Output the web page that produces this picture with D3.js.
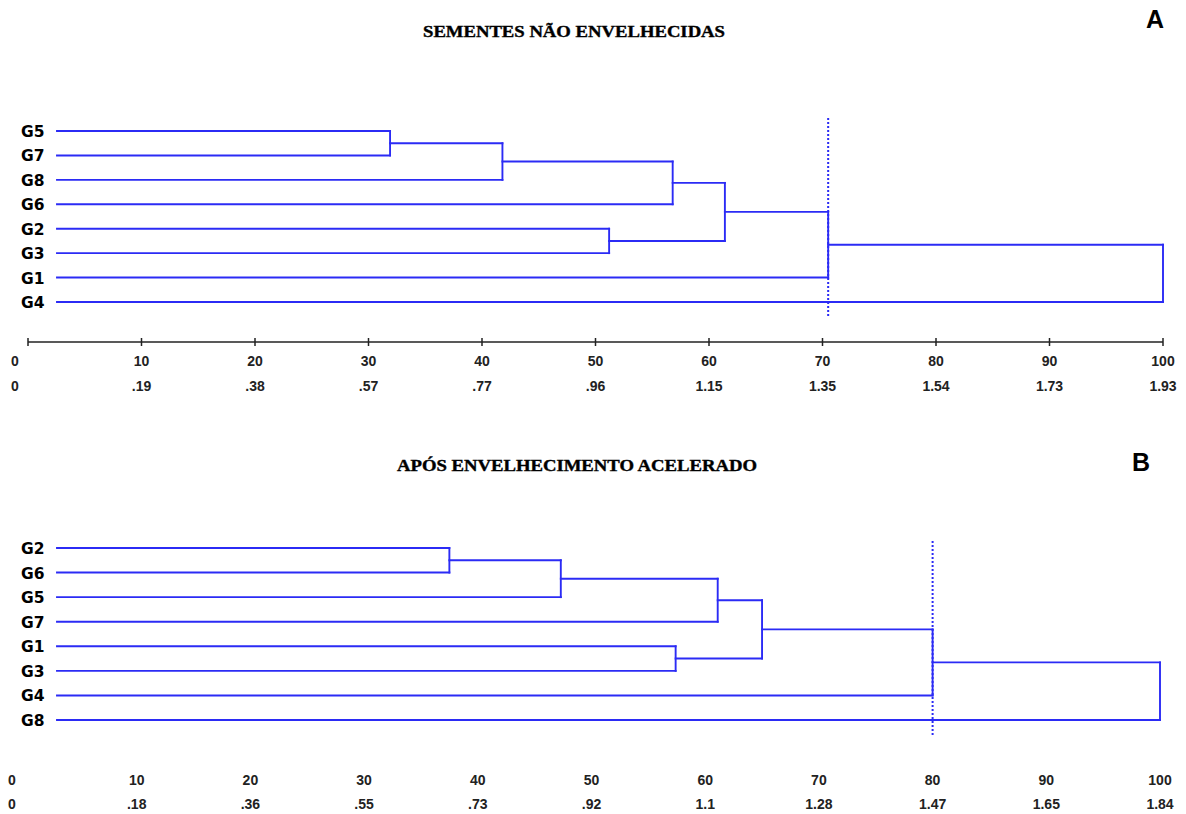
<!DOCTYPE html>
<html>
<head>
<meta charset="utf-8">
<script src="https://cdn.jsdelivr.net/npm/d3@7"></script>
<style>
  html, body { margin: 0; padding: 0; background: #fff; }
  svg { display: block; }
</style>
</head>
<body>
<svg id="chart"></svg>
<script>
// Two UPGMA-style dendrograms, same scale 0..100 with the raw distance underneath.

// --- panel A: seeds not aged
const leavesA = ["G5", "G7", "G8", "G6", "G2", "G3", "G1", "G4"];
// [left, right, height]; numbers refer to earlier merges
const mergesA = [
  ["G5", "G7", 31.9],
  [0, "G8", 41.8],
  ["G2", "G3", 51.2],
  [1, "G6", 56.8],
  [3, 2, 61.4],
  [4, "G1", 70.5],
  [5, "G4", 100],
];
const cutA = 70.5;
const distA = ["0", ".19", ".38", ".57", ".77", ".96", "1.15", "1.35", "1.54", "1.73", "1.93"];

// --- panel B: after accelerated ageing
const leavesB = ["G2", "G6", "G5", "G7", "G1", "G3", "G4", "G8"];
const mergesB = [
  ["G2", "G6", 37.5],
  [0, "G5", 47.3],
  ["G1", "G3", 57.4],
  [1, "G7", 61.1],
  [3, 2, 65.0],
  [4, "G4", 80.0],
  [5, "G8", 100],
];
const cutB = 80.0;
const distB = ["0", ".18", ".36", ".55", ".73", ".92", "1.1", "1.28", "1.47", "1.65", "1.84"];

const ticks = d3.range(0, 101, 10);

const W = 1186, H = 814;
const BLUE = "#2b2bf5";
const INK = "#222";

const svg = d3.select("#chart").attr("width", W).attr("height", H);

function drawPanel(cfg) {
  const g = svg.append("g");
  const x = d3.scaleLinear().domain([0, 100]).range(cfg.xRange);
  const y = d3.scalePoint().domain(cfg.leaves).range(cfg.yRange);

  // title + panel letter
  g.append("text")
    .attr("x", cfg.titleX).attr("y", cfg.titleY)
    .attr("text-anchor", "middle")
    .attr("font-family", "'Liberation Serif', 'Times New Roman', serif")
    .attr("font-weight", "bold").attr("font-size", 17)
    .attr("textLength", cfg.titleLen).attr("lengthAdjust", "spacingAndGlyphs")
    .attr("fill", "#000").attr("stroke", "#000").attr("stroke-width", 0.4)
    .text(cfg.title);
  g.append("text")
    .attr("x", cfg.letterX).attr("y", cfg.letterY)
    .attr("text-anchor", "middle")
    .attr("font-family", "'Liberation Sans', Arial, sans-serif")
    .attr("font-weight", "bold").attr("font-size", 25)
    .attr("fill", "#000")
    .text(cfg.letter);

  // leaf labels
  g.selectAll("text.leaf").data(cfg.leaves).join("text")
    .attr("class", "leaf")
    .attr("x", cfg.labelX).attr("y", (d) => y(d) + 1)
    .attr("dominant-baseline", "central")
    .attr("font-family", "'DejaVu Sans', Verdana, sans-serif")
    .attr("font-weight", "bold").attr("font-size", 15.5)
    .attr("fill", "#000")
    .text((d) => d);

  // build node positions
  const pos = {};
  cfg.leaves.forEach((l) => { pos[l] = { x: cfg.leafX0, y: y(l) }; });
  const node = (k) => (typeof k === "number" ? pos["m" + k] : pos[k]);
  const segs = [];
  cfg.merges.forEach(([a, b, h], i) => {
    const A = node(a), B = node(b), nx = x(h);
    segs.push([A.x, A.y, nx, A.y]);
    segs.push([B.x, B.y, nx, B.y]);
    segs.push([nx, A.y, nx, B.y]);
    pos["m" + i] = { x: nx, y: (A.y + B.y) / 2 };
  });

  g.append("g").selectAll("line").data(segs).join("line")
    .attr("x1", (d) => d[0]).attr("y1", (d) => d[1])
    .attr("x2", (d) => d[2]).attr("y2", (d) => d[3])
    .attr("stroke", BLUE).attr("stroke-width", 1.9)
    .attr("stroke-linecap", "square");

  // dotted cut line
  g.append("line")
    .attr("x1", x(cfg.cut)).attr("x2", x(cfg.cut))
    .attr("y1", cfg.cutY[0]).attr("y2", cfg.cutY[1])
    .attr("stroke", BLUE).attr("stroke-width", 2)
    .attr("stroke-dasharray", "2,2");

  // axis line (panel A only)
  if (cfg.axisY != null) {
    const ax = g.append("g").attr("transform", `translate(0,${cfg.axisY})`);
    ax.append("line")
      .attr("x1", x(0)).attr("x2", x(100))
      .attr("stroke", INK).attr("stroke-width", 1.5);
    ax.selectAll("line.tk").data(ticks).join("line")
      .attr("class", "tk")
      .attr("x1", (d) => x(d)).attr("x2", (d) => x(d))
      .attr("y1", -4).attr("y2", 4)
      .attr("stroke", INK).attr("stroke-width", 1.5);
  }

  // two rows of tick labels: rescaled 0..100 and raw distance
  const lx = (d, i) => (i === 0 ? x(d) - cfg.zeroShift : x(d));
  const rows = [ticks.map(String), cfg.dist];
  rows.forEach((labels, r) => {
    g.append("g").selectAll("text").data(ticks).join("text")
      .attr("x", lx)
      .attr("y", cfg.rowY[r])
      .attr("dominant-baseline", "central")
      .attr("text-anchor", "middle")
      .attr("font-family", "'Liberation Sans', Arial, sans-serif")
      .attr("font-weight", "bold").attr("font-size", 14)
      .attr("fill", INK)
      .text((d, i) => labels[i]);
  });
}

drawPanel({
  title: "SEMENTES NÃO ENVELHECIDAS", titleX: 574, titleY: 37, titleLen: 302,
  letter: "A", letterX: 1155, letterY: 28,
  leaves: leavesA, merges: mergesA, cut: cutA, dist: distA,
  xRange: [28, 1163], yRange: [131, 302], leafX0: 57, labelX: 21,
  cutY: [118, 317], axisY: 342, rowY: [361, 386], zeroShift: 13,
});

drawPanel({
  title: "APÓS ENVELHECIMENTO ACELERADO", titleX: 577, titleY: 471, titleLen: 360,
  letter: "B", letterX: 1141, letterY: 471,
  leaves: leavesB, merges: mergesB, cut: cutB, dist: distB,
  xRange: [23, 1160], yRange: [548, 720], leafX0: 57, labelX: 21,
  cutY: [541, 735], axisY: null, rowY: [780, 804], zeroShift: 11,
});
</script>
</body>
</html>
